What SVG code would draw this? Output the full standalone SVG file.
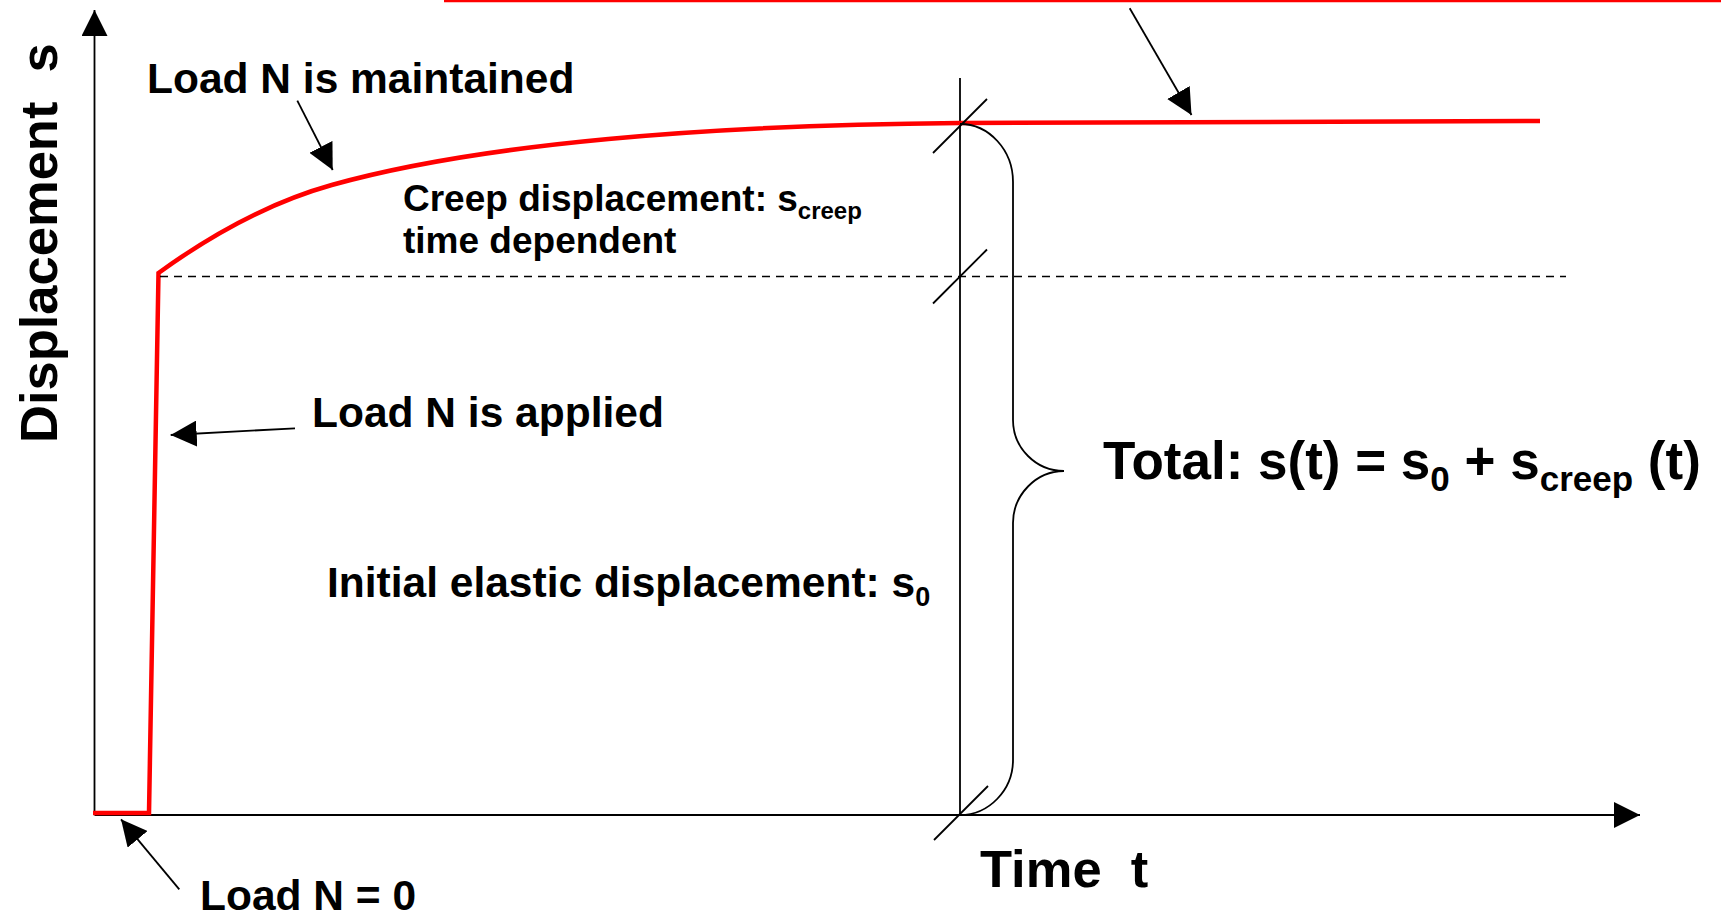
<svg xmlns="http://www.w3.org/2000/svg" width="1721" height="919" viewBox="0 0 1721 919">
<style>
.t{font-family:"Liberation Sans",Arial,sans-serif;font-weight:bold;fill:#000}
.ln{stroke:#000;stroke-width:1.8;fill:none}
.red{stroke:#ff0000;stroke-width:4.5;fill:none;stroke-linejoin:miter}
</style>
<defs>
<marker id="ah" viewBox="0 0 26 26" refX="26" refY="13" markerWidth="26" markerHeight="26" markerUnits="userSpaceOnUse" orient="auto">
<path d="M0,0 L26,13 L0,26 z" fill="#000"/>
</marker>
</defs>
<rect width="1721" height="919" fill="#fff"/>
<g id="axes">
<line class="ln" x1="94.5" y1="815" x2="94.5" y2="10" stroke-width="2" marker-end="url(#ah)"/>
<line class="ln" x1="94.5" y1="815" x2="1640" y2="815" stroke-width="2" marker-end="url(#ah)"/>
<line class="ln" x1="960" y1="78" x2="960" y2="815"/>
</g>
<g id="curve">
<line class="red" x1="444" y1="0" x2="1721" y2="0" stroke-width="4"/>
<path class="red" d="M93,813 L149,813 L158.5,273 C213.5,233 271.7,201.8 331.7,185 C481.7,143 710,125 960,123 L1540,121"/>
</g>
<g id="guides">
<line x1="160" y1="276.5" x2="1566" y2="276.5" stroke="#000" stroke-width="1.5" stroke-dasharray="8 6"/>
<line class="ln" x1="933" y1="153" x2="987" y2="99"/>
<line class="ln" x1="933" y1="303.5" x2="987" y2="249.5"/>
<line class="ln" x1="934" y1="840" x2="988" y2="786"/>
<path class="ln" d="M960,124 C989,124 1013,150 1013,182 L1013,420 C1013,448 1036,471 1064,471 C1036,471 1013,495 1013,523 L1013,760 C1013,790 989,815 960,815"/>
</g>
<g id="connectors">
<line class="ln" stroke-width="1.5" x1="297.3" y1="100.7" x2="332.7" y2="170" marker-end="url(#ah)"/>
<line class="ln" stroke-width="1.5" x1="1129.7" y1="8.3" x2="1191.5" y2="115" marker-end="url(#ah)"/>
<line class="ln" stroke-width="1.5" x1="295" y1="428.3" x2="170.7" y2="435" marker-end="url(#ah)"/>
<line class="ln" stroke-width="1.5" x1="179.3" y1="889.3" x2="121" y2="819.3" marker-end="url(#ah)"/>
</g>
<g id="label-y">
<text class="t" font-size="52.5" xml:space="preserve" transform="translate(57,443) rotate(-90)">Displacement  s</text>
</g>
<g id="label-x">
<text class="t" font-size="52.5" x="980" y="887" xml:space="preserve">Time  t</text>
</g>
<g id="label-maintained">
<text class="t" font-size="42.5" x="147" y="93">Load N is maintained</text>
</g>
<g id="label-creep">
<text class="t" font-size="37" x="403" y="211">Creep displacement: s<tspan font-size="24" dy="8">creep</tspan></text>
<text class="t" font-size="37" x="403" y="253">time dependent</text>
</g>
<g id="label-applied">
<text class="t" font-size="42.5" x="312" y="427">Load N is applied</text>
</g>
<g id="label-initial">
<text class="t" font-size="42.5" x="327" y="597">Initial elastic displacement: s<tspan font-size="27" dy="9">0</tspan></text>
</g>
<g id="label-total">
<text class="t" font-size="53" x="1103" y="479" xml:space="preserve">Total: s(t) = s<tspan font-size="35" dy="12">0</tspan><tspan dy="-12"> + s</tspan><tspan font-size="35" dy="12">creep</tspan><tspan dy="-12"> (t)</tspan></text>
</g>
<g id="label-zero">
<text class="t" font-size="42.5" x="200" y="910">Load N = 0</text>
</g>
</svg>
